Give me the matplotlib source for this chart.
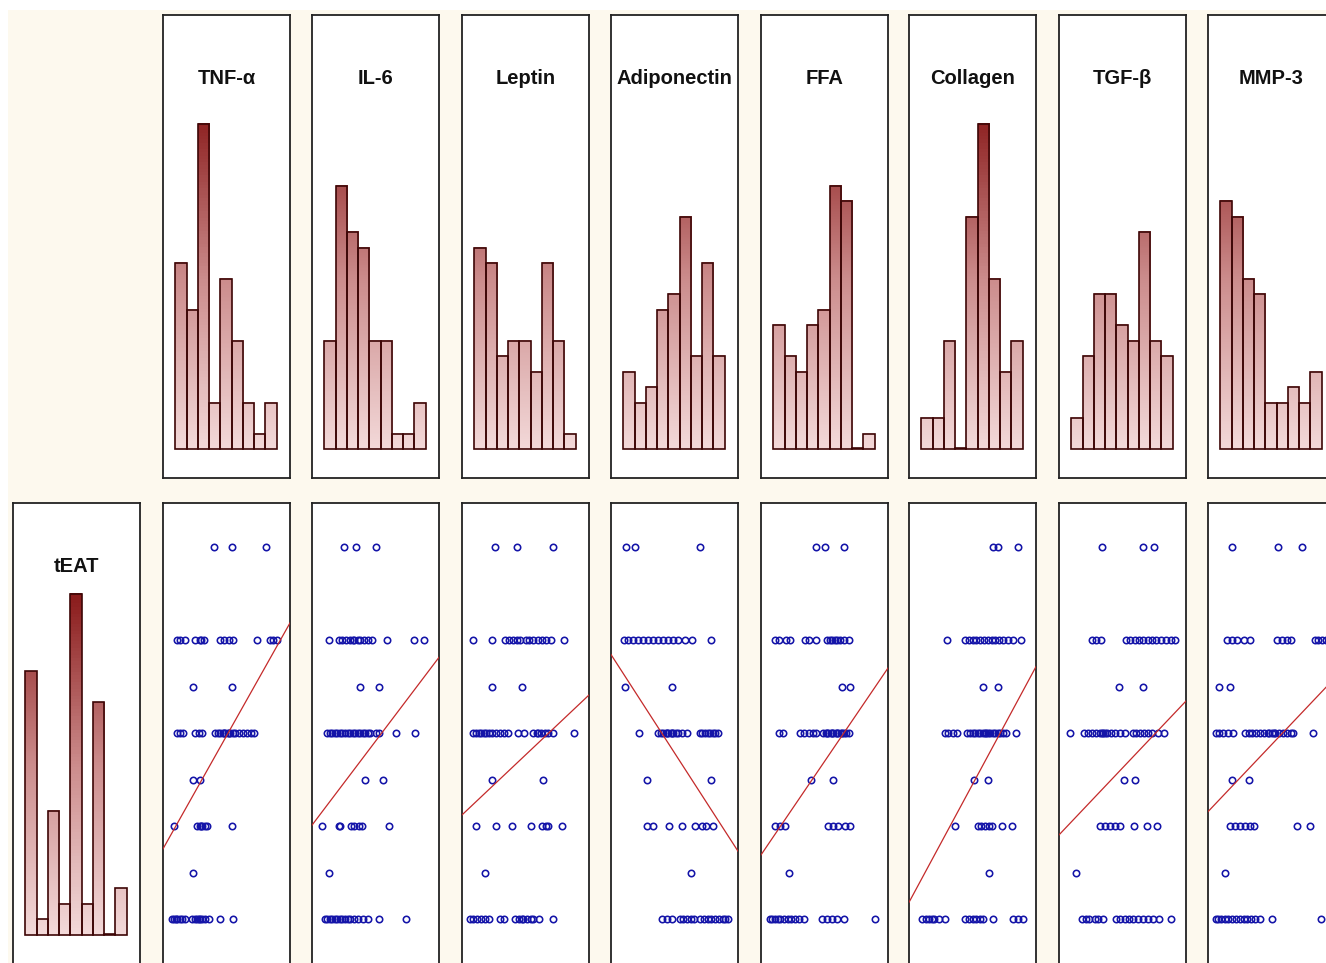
import matplotlib.pyplot as plt
import matplotlib.colors as mcolors
import numpy as np
from matplotlib.patches import Rectangle

# variables on the top row (histograms) and columns of the bottom row (scatter vs tEAT)
variables = ["TNF-α", "IL-6", "Leptin", "Adiponectin", "FFA", "Collagen", "TGF-β", "MMP-3"]

# histogram counts, 9 bins each
tnf_counts = [12, 9, 21, 3, 11, 7, 3, 1, 3]
il6_counts = [7, 17, 14, 13, 7, 7, 1, 1, 3]
leptin_counts = [13, 12, 6, 7, 7, 5, 12, 7, 1]
adipo_counts = [5, 3, 4, 9, 10, 15, 6, 12, 6]
ffa_counts = [8, 6, 5, 8, 9, 17, 16, 0, 1]
collagen_counts = [2, 2, 7, 0, 15, 21, 11, 5, 7]
tgf_counts = [2, 6, 10, 10, 8, 7, 14, 7, 6]
mmp3_counts = [16, 15, 11, 10, 3, 3, 4, 3, 5]
teat_counts = [17, 1, 8, 2, 22, 2, 15, 0, 3]

# tEAT score levels, one row of points per level
teat_levels = [8, 6, 5, 4, 3, 2, 1, 0]

# x positions (0-100 of each variable's range) of the points on each tEAT level
tnf_x = [
    [40, 54, 81],
    [11, 13, 17, 25, 29, 30, 32, 45, 48, 52, 55, 74, 84, 87, 90],
    [24, 54],
    [11, 13, 16, 25, 28, 31, 41, 43, 45, 47, 48, 49, 51, 52, 53, 55, 57, 60, 63, 66, 69, 72],
    [24, 29],
    [9, 27, 29, 30, 31, 33, 35, 54],
    [24],
    [7, 9, 10, 11, 13, 15, 17, 23, 25, 27, 28, 29, 31, 33, 36, 45, 55],
]
il6_x = [
    [25, 35, 50],
    [13, 21, 24, 27, 30, 32, 33, 36, 38, 41, 44, 47, 59, 80, 88],
    [38, 53],
    [12, 14, 16, 18, 20, 22, 24, 26, 28, 30, 32, 34, 36, 38, 40, 42, 44, 46, 50, 53, 66, 81],
    [42, 56],
    [8, 21, 22, 31, 33, 37, 39, 61],
    [13],
    [10, 12, 14, 16, 18, 20, 22, 24, 26, 28, 30, 33, 36, 40, 44, 53, 74],
]
leptin_x = [
    [26, 43, 72],
    [9, 24, 34, 37, 40, 43, 46, 50, 53, 56, 60, 63, 66, 70, 80],
    [24, 47],
    [9, 11, 13, 15, 17, 19, 21, 24, 27, 30, 33, 36, 44, 49, 56, 59, 60, 62, 65, 68, 72, 88],
    [24, 64],
    [11, 27, 39, 54, 63, 66, 68, 79],
    [18],
    [6, 9, 12, 15, 18, 21, 30, 33, 42, 45, 47, 48, 51, 54, 56, 61, 72],
]
adipo_x = [
    [12, 19, 70],
    [10, 13, 17, 21, 25, 29, 33, 37, 41, 45, 49, 53, 58, 64, 79],
    [11, 48],
    [22, 37, 39, 41, 43, 44, 45, 47, 48, 49, 51, 53, 56, 60, 70, 72, 74, 76, 78, 80, 82, 84],
    [28, 79],
    [28, 33, 46, 56, 66, 72, 75, 80],
    [63],
    [40, 44, 48, 54, 57, 60, 63, 65, 70, 73, 76, 79, 82, 85, 88, 90, 92],
]
ffa_x = [
    [43, 50, 65],
    [11, 14, 20, 23, 35, 38, 43, 52, 54, 56, 58, 60, 62, 65, 69],
    [64, 70],
    [14, 17, 31, 34, 38, 41, 43, 49, 51, 52, 53, 55, 56, 57, 59, 60, 61, 63, 64, 65, 67, 69],
    [39, 57],
    [11, 15, 19, 53, 57, 61, 66, 70],
    [22],
    [7, 9, 11, 13, 15, 18, 21, 24, 27, 30, 34, 48, 52, 56, 60, 65, 90],
]
collagen_x = [
    [66, 70, 86],
    [30, 44, 47, 50, 53, 56, 59, 62, 65, 68, 71, 74, 78, 82, 88],
    [58, 70],
    [28, 31, 35, 38, 46, 48, 50, 52, 54, 56, 58, 60, 61, 62, 64, 66, 68, 70, 72, 74, 76, 84],
    [51, 62],
    [36, 54, 57, 60, 63, 65, 73, 81],
    [63],
    [10, 13, 16, 18, 20, 24, 28, 44, 47, 50, 53, 56, 58, 66, 82, 86, 90],
]
tgf_x = [
    [34, 66, 75],
    [26, 29, 33, 53, 56, 60, 63, 66, 70, 73, 76, 80, 84, 88, 91],
    [47, 66],
    [9, 20, 23, 26, 29, 32, 34, 35, 36, 38, 41, 44, 48, 52, 58, 61, 64, 67, 70, 73, 78, 83],
    [51, 60],
    [32, 36, 40, 44, 48, 59, 69, 77],
    [13],
    [18, 21, 24, 28, 31, 35, 45, 48, 52, 55, 58, 62, 66, 70, 74, 79, 88],
]
mmp3_x = [
    [19, 55, 74],
    [15, 19, 23, 28, 33, 54, 58, 62, 65, 84, 87, 90, 93, 96, 99],
    [9, 17],
    [6, 9, 12, 16, 20, 29, 32, 35, 38, 41, 44, 47, 48, 50, 52, 53, 56, 59, 62, 65, 67, 83],
    [19, 32],
    [17, 21, 25, 29, 33, 36, 70, 80],
    [13],
    [6, 8, 10, 13, 16, 19, 22, 25, 28, 31, 34, 37, 41, 50, 89, 96, 99],
]

# fitted tEAT at the low (0) and high (100) end of each variable
fit_low = [1.51, 2.02, 2.24, 5.69, 1.38, 0.36, 1.81, 2.31]
fit_high = [6.37, 5.63, 4.82, 1.46, 5.40, 5.43, 4.69, 5.19]

all_counts = [tnf_counts, il6_counts, leptin_counts, adipo_counts,
              ffa_counts, collagen_counts, tgf_counts, mmp3_counts]
all_x = [tnf_x, il6_x, leptin_x, adipo_x, ffa_x, collagen_x, tgf_x, mmp3_x]

W, H = 1326, 963
cream = "#fdf9ee"
bar_cmap = mcolors.LinearSegmentedColormap.from_list("bars", ["#f3d9d9", "#cc8c8c", "#8a1b1b"])
title_font = dict(family="Liberation Sans", fontweight="bold", fontsize=14.5, color="#111111")

fig = plt.figure(figsize=(W / 100, H / 100), dpi=100, facecolor="white")
fig.patches.append(Rectangle((8 / W, -0.1), 1.2, 1.1 - 10 / H, transform=fig.transFigure,
                             facecolor=cream, edgecolor="none", zorder=-10))


def panel(left, top):
    ax = fig.add_axes([left / W, 1 - (top + 463) / H, 127 / W, 463 / H])
    ax.set_facecolor("white")
    ax.set_xticks([])
    ax.set_yticks([])
    for s in ax.spines.values():
        s.set_color("#222222")
        s.set_linewidth(1.3)
    return ax


def histogram(ax, counts, title, ylim):
    for i, c in enumerate(counts):
        if c > 0:
            ax.imshow(np.linspace(0, c, 100).reshape(-1, 1), cmap=bar_cmap, vmin=0, vmax=22,
                      origin="lower", extent=[i - 0.5, i + 0.5, 0, c], aspect="auto", zorder=2)
    # empty bins still show a short line on the baseline
    heights = [c if c > 0 else 0.08 for c in counts]
    ax.bar(range(len(counts)), heights, width=1.0, color="none", edgecolor="#3d0606",
           linewidth=1.2, zorder=3)
    ax.set_xlim(-1.6, 9.7)
    ax.set_ylim(*ylim)
    ax.text(0.5, 0.862, title, transform=ax.transAxes, ha="center", va="center", **title_font)


col_left = [163, 312, 462, 611, 761, 909, 1059, 1208]

# top row: histograms
for k, name in enumerate(variables):
    ax = panel(col_left[k], 15)
    histogram(ax, all_counts[k], name, (-1.87, 28.0))

# bottom row: tEAT histogram and scatter plots
ax = panel(13, 503)
histogram(ax, teat_counts, "tEAT", (-2.0, 27.87))

for k in range(len(variables)):
    ax = panel(col_left[k], 503)
    for level, xs in zip(teat_levels, all_x[k]):
        ax.plot(xs, [level] * len(xs), "o", ms=4.6, mfc="none", mec="#1414a8", mew=1.15,
                zorder=3, clip_on=True)
    ax.plot([0, 100], [fit_low[k], fit_high[k]], color="#c42a2a", lw=0.9, zorder=4)
    ax.set_xlim(0, 100)
    ax.set_ylim(-1.01, 8.95)

fig.savefig("out.png", dpi=100, facecolor=fig.get_facecolor())
